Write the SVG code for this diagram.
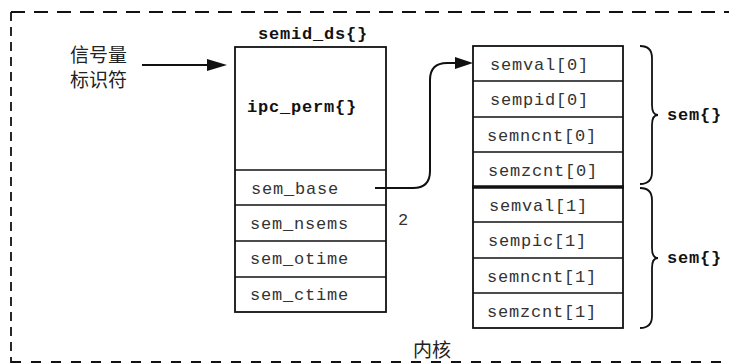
<svg xmlns="http://www.w3.org/2000/svg" width="729" height="363" viewBox="0 0 729 363">
<style>
.box{fill:#fff;stroke:#111;stroke-width:1.8}
.sep{stroke:#111;stroke-width:1.6}
.fld{font-family:"Liberation Mono",monospace;font-size:17px;letter-spacing:0.8px;fill:#333}
.lbl{font-family:"Liberation Mono",monospace;font-size:17px;font-weight:bold;letter-spacing:0.8px;fill:#111}
.cjk{font-family:"Liberation Sans","Noto Sans CJK SC",sans-serif;font-size:19px;fill:#222}
.brace{fill:none;stroke:#111;stroke-width:1.8}
.conn{fill:none;stroke:#111;stroke-width:2}
.dash{fill:none;stroke:#111;stroke-width:1.8}
</style>
<rect width="729" height="363" fill="#fff"/>
<g id="kernel-border">
<path class="dash" d="M11,12 H729" stroke-dasharray="14 9"/>
<path class="dash" d="M11,12 V363" stroke-dasharray="9 6"/>
<path class="dash" d="M11,362 H729" stroke-dasharray="10 10" stroke="#bbb"/>
<text class="cjk" x="413" y="357" font-size="18">内核</text>
</g>
<g id="identifier">
<text class="cjk" x="70" y="62">信号量</text>
<text class="cjk" x="70" y="87">标识符</text>
</g>
<g id="semid_ds">
<text class="lbl" x="258" y="39">semid_ds{}</text>
<rect class="box" x="235" y="47" width="151" height="265"/>
<line class="sep" x1="235" y1="170" x2="386" y2="170"/>
<line class="sep" x1="235" y1="205" x2="386" y2="205"/>
<line class="sep" x1="235" y1="241" x2="386" y2="241"/>
<line class="sep" x1="235" y1="277" x2="386" y2="277"/>
<text class="lbl" x="247" y="112">ipc_perm{}</text>
<text class="fld" x="251" y="194">sem_base</text>
<text class="fld" x="250" y="229">sem_nsems</text>
<text class="fld" x="250" y="264">sem_otime</text>
<text class="fld" x="250" y="300">sem_ctime</text>
</g>
<g id="nsems-value">
<text class="fld" x="398" y="225" font-size="14" letter-spacing="0">2</text>
</g>
<g id="sem-array">
<rect class="box" x="473" y="46" width="150" height="282"/>
<line class="sep" x1="473" y1="81" x2="623" y2="81"/>
<line class="sep" x1="473" y1="117" x2="623" y2="117"/>
<line class="sep" x1="473" y1="152" x2="623" y2="152"/>
<line x1="472" y1="187" x2="624" y2="187" stroke="#111" stroke-width="3.5"/>
<line class="sep" x1="473" y1="222" x2="623" y2="222"/>
<line class="sep" x1="473" y1="258" x2="623" y2="258"/>
<line class="sep" x1="473" y1="293" x2="623" y2="293"/>
<text class="fld" x="490" y="70">semval[0]</text>
<text class="fld" x="490" y="105">sempid[0]</text>
<text class="fld" x="487" y="141">semncnt[0]</text>
<text class="fld" x="488" y="176">semzcnt[0]</text>
<text class="fld" x="489" y="211">semval[1]</text>
<text class="fld" x="488" y="246">sempic[1]</text>
<text class="fld" x="487" y="282">semncnt[1]</text>
<text class="fld" x="487" y="317">semzcnt[1]</text>
</g>
<g id="sem0">
<path class="brace" d="M640,46 Q652,46 652,58 V105 Q652,115 658,115 Q652,115 652,125 V172 Q652,184 640,184"/>
<text class="lbl" x="667" y="120">sem{}</text>
</g>
<g id="sem1">
<path class="brace" d="M640,188 Q652,188 652,200 V248 Q652,258 658,258 Q652,258 652,268 V316 Q652,328 640,328"/>
<text class="lbl" x="667" y="263">sem{}</text>
</g>
<g id="connectors">
<line class="conn" x1="142" y1="65" x2="210" y2="65"/>
<polygon points="207,59 227,65 207,71" fill="#111"/>
<path class="conn" d="M375,188 H413 Q430,188 430,171 V80 Q430,63 447,63 H458"/>
<polygon points="455,57 473,63 455,69" fill="#111"/>
</g>
</svg>
